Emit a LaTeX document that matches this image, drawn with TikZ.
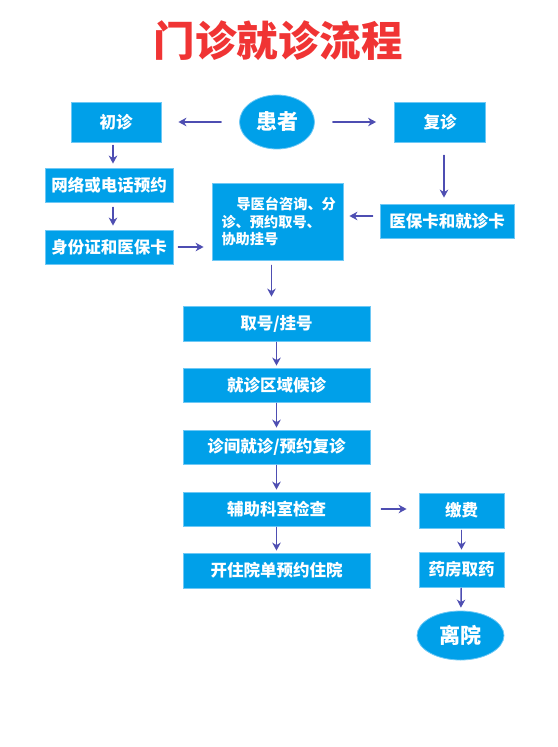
\documentclass[tikz,border=0pt]{standalone}
\usepackage{fontspec}
\setmainfont{Noto Sans CJK SC}
\usetikzlibrary{arrows.meta,shapes.geometric}
\definecolor{boxblue}{RGB}{0,160,233}
\definecolor{boxedge}{RGB}{110,200,245}
\definecolor{arrowblue}{RGB}{78,78,178}
\definecolor{titlered}{RGB}{240,52,52}
\begin{document}
\begin{tikzpicture}[x=1pt,y=-1pt,line cap=round,
    box/.style={rectangle,fill=boxblue,draw=boxedge,line width=0.8pt,text=white,
      font=\fontsize{16.5}{18}\selectfont\bfseries,inner sep=0pt},
    oval/.style={ellipse,fill=boxblue,draw=boxedge,line width=0.8pt,text=white,
      font=\fontsize{21}{22}\selectfont\bfseries,inner sep=0pt},
    arr/.style={draw=arrowblue,line width=1.5pt,-{Stealth[length=8pt,width=8.5pt,inset=2.5pt]}}]
    \useasboundingbox (0,0) rectangle (557,747);
    % title
    \node[text=titlered,font=\fontsize{41.5}{44}\selectfont\bfseries] (title) at (278,41) {门诊就诊流程};
    % top row
    \node[oval,minimum width=75pt,minimum height=54pt] (patient) at (277,122) {患者};
    \node[box,minimum width=90pt,minimum height=40pt] (first) at (116,122) {初诊};
    \node[box,minimum width=91pt,minimum height=40pt] (return) at (440,122) {复诊};
    % left column
    \node[box,minimum width=128pt,minimum height=34pt] (online) at (109,185) {网络或电话预约};
    \node[box,minimum width=128pt,minimum height=34pt] (idcard) at (109,247) {身份证和医保卡};
    % right column
    \node[box,minimum width=134pt,minimum height=34pt] (medcard) at (447,221) {医保卡和就诊卡};
    % guide desk
    \node[box,minimum width=131pt,minimum height=77pt,text width=112pt,align=left,
      font=\fontsize{14.2}{17.5}\selectfont\bfseries] (guide) at (277.5,221.5)
      {\hspace*{15pt}导医台咨询、分\\诊、预约取号、\\协助挂号};
    % main column
    \node[box,minimum width=187pt,minimum height=35pt] (take) at (276.5,323.5) {取号/挂号};
    \node[box,minimum width=187pt,minimum height=34pt] (wait) at (276.5,385) {就诊区域候诊};
    \node[box,minimum width=187pt,minimum height=34pt] (consult) at (276.5,447) {诊间就诊/预约复诊};
    \node[box,minimum width=187pt,minimum height=34pt] (exam) at (276.5,509) {辅助科室检查};
    \node[box,minimum width=187pt,minimum height=35pt] (admit) at (276.5,570.5) {开住院单预约住院};
    % exit column
    \node[box,minimum width=85pt,minimum height=35pt] (pay) at (461.5,510.5) {缴费};
    \node[box,minimum width=85pt,minimum height=35pt] (pharmacy) at (461.5,569.5) {药房取药};
    \node[oval,minimum width=87pt,minimum height=49pt] (leave) at (460.5,635.5) {离院};
    % arrows
    \draw[arr,shorten <=18pt,shorten >=17pt] (patient) -- (first);
    \draw[arr,shorten <=18pt,shorten >=18pt] (patient) -- (return);
    \draw[arr,shorten <=3pt,shorten >=4pt] ([xshift=-3pt]first.south) -- ([xshift=-3pt]first.south |- online.north);
    \draw[arr,shorten <=5pt,shorten >=4pt] ([xshift=4pt]online.south) -- ([xshift=4pt]online.south |- idcard.north);
    \draw[arr,shorten <=5pt,shorten >=8pt] (idcard) -- (idcard -| guide.west);
    \draw[arr,shorten <=13pt,shorten >=6pt] ([xshift=4pt]return.south) -- ([xshift=4pt]return.south |- medcard.north);
    \draw[arr,shorten <=7pt,shorten >=6pt] ([yshift=5pt]medcard.west) -- ([yshift=5pt]medcard.west -| guide.east);
    \draw[arr,shorten <=5pt,shorten >=9pt] ([xshift=-6pt]guide.south) -- ([xshift=-6pt]guide.south |- take.north);
    \draw[arr,shorten <=1pt,shorten >=2pt] (take) -- (wait);
    \draw[arr,shorten <=1pt,shorten >=2pt] (wait) -- (consult);
    \draw[arr,shorten <=1pt,shorten >=2pt] (consult) -- (exam);
    \draw[arr,shorten <=1pt,shorten >=2pt] (exam) -- (admit);
    \draw[arr,shorten <=11pt,shorten >=12pt] (exam) -- (exam -| pay.west);
    \draw[arr,shorten <=2pt,shorten >=2pt] (pay) -- (pharmacy);
    \draw[arr,shorten <=1pt,shorten >=3pt] (pharmacy) -- (leave);
\end{tikzpicture}
\end{document}
